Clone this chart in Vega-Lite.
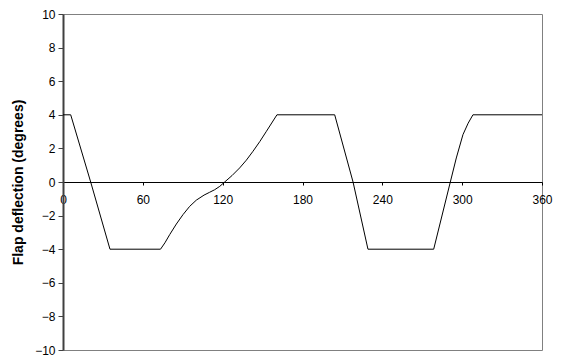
{
  "$schema": "https://vega.github.io/schema/vega-lite/v6.json",
  "width": 479,
  "height": 336,
  "autosize": "none",
  "padding": {"left": 63, "top": 14, "right": 19, "bottom": 11},
  "background": "white",
  "config": {
    "font": "Liberation Sans",
    "view": {"stroke": "#808080", "strokeWidth": 1}
  },
  "data": {
    "values": [
      {"angle": 0, "flap": 4},
      {"angle": 5.8, "flap": 4},
      {"angle": 20.8, "flap": 0},
      {"angle": 35.3, "flap": -4},
      {"angle": 73.3, "flap": -4},
      {"angle": 76.6, "flap": -3.62},
      {"angle": 80.2, "flap": -3.13},
      {"angle": 85.2, "flap": -2.5},
      {"angle": 90.2, "flap": -1.94},
      {"angle": 95.2, "flap": -1.45},
      {"angle": 100.2, "flap": -1.08},
      {"angle": 106, "flap": -0.78},
      {"angle": 110, "flap": -0.62},
      {"angle": 114, "flap": -0.46},
      {"angle": 117.8, "flap": -0.26},
      {"angle": 121.5, "flap": 0},
      {"angle": 127, "flap": 0.38},
      {"angle": 132.8, "flap": 0.84},
      {"angle": 137.8, "flap": 1.3},
      {"angle": 142.8, "flap": 1.83},
      {"angle": 148, "flap": 2.42},
      {"angle": 152.9, "flap": 3.02},
      {"angle": 160.8, "flap": 4},
      {"angle": 204.2, "flap": 4},
      {"angle": 218, "flap": 0},
      {"angle": 229.2, "flap": -4},
      {"angle": 278.6, "flap": -4},
      {"angle": 291.1, "flap": 0},
      {"angle": 295.6, "flap": 1.43},
      {"angle": 300.6, "flap": 2.82},
      {"angle": 304.5, "flap": 3.5},
      {"angle": 308.1, "flap": 4},
      {"angle": 360, "flap": 4}
    ]
  },
  "mark": {"type": "line", "color": "black", "strokeWidth": 1, "interpolate": "linear"},
  "encoding": {
    "x": {
      "field": "angle",
      "type": "quantitative",
      "scale": {"domain": [0, 360], "nice": false, "zero": false},
      "axis": {
        "title": null,
        "values": [0, 60, 120, 180, 240, 300, 360],
        "offset": -168,
        "domainColor": "black",
        "domainWidth": 1,
        "tickColor": "black",
        "tickSize": 3,
        "labelPadding": 9,
        "labelFontSize": 12,
        "labelColor": "black",
        "grid": false,
        "labelFlush": false
      }
    },
    "y": {
      "field": "flap",
      "type": "quantitative",
      "scale": {"domain": [-10, 10], "nice": false, "zero": false},
      "axis": {
        "title": "Flap deflection (degrees)",
        "titleFontSize": 14,
        "titleFontWeight": "bold",
        "titleColor": "black",
        "titleX": -38,
        "values": [-10, -8, -6, -4, -2, 0, 2, 4, 6, 8, 10],
        "domainColor": "#404040",
        "domainWidth": 2,
        "tickColor": "#404040",
        "tickSize": 5,
        "labelPadding": 3,
        "labelFontSize": 12,
        "labelColor": "black",
        "grid": false
      }
    }
  }
}
